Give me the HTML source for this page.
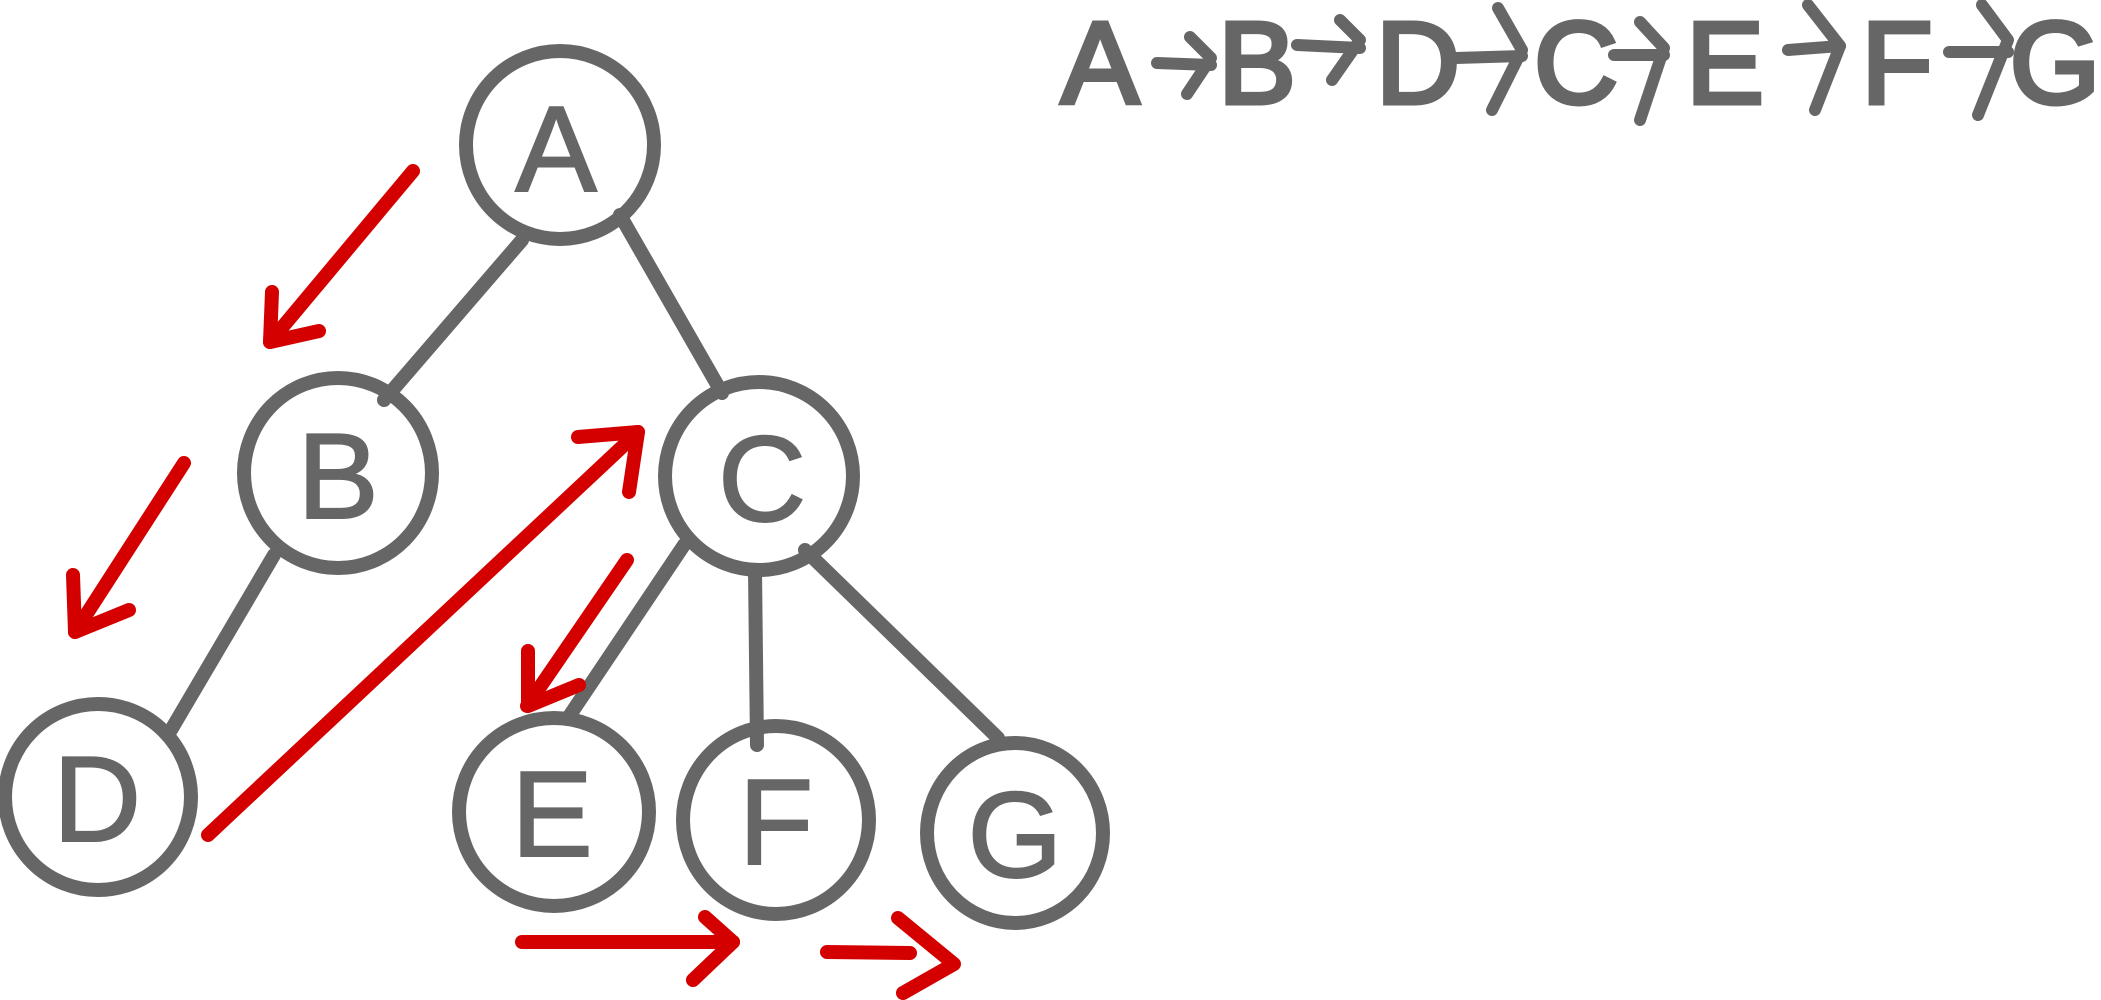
<!DOCTYPE html>
<html><head><meta charset="utf-8"><style>
html,body{margin:0;padding:0;background:#fff;}
svg{display:block;}
text{font-family:"Liberation Sans",sans-serif;fill:#666;stroke:#666;text-anchor:middle;}
</style></head><body>
<svg width="2101" height="1000" viewBox="0 0 2101 1000" xmlns="http://www.w3.org/2000/svg">
<g fill="none" stroke="#666" stroke-width="14" stroke-linecap="round" stroke-linejoin="round">
<line x1="522" y1="240" x2="384" y2="400"/>
<line x1="620" y1="215" x2="722" y2="393"/>
<line x1="274" y1="555" x2="171" y2="730"/>
<line x1="684" y1="545" x2="568" y2="718"/>
<line x1="755" y1="570" x2="757" y2="745"/>
<line x1="805" y1="550" x2="998" y2="738"/>
<ellipse cx="560" cy="145" rx="94" ry="94"/>
<ellipse cx="338" cy="473" rx="94" ry="95"/>
<ellipse cx="759" cy="476" rx="94" ry="94"/>
<ellipse cx="98" cy="797" rx="93" ry="93"/>
<ellipse cx="554" cy="812" rx="95" ry="94"/>
<ellipse cx="776" cy="820" rx="93" ry="94"/>
<ellipse cx="1015" cy="833" rx="88" ry="90"/>
</g>
<g fill="none" stroke="#d40000" stroke-width="14" stroke-linecap="round" stroke-linejoin="round">
<line x1="413" y1="171" x2="270" y2="342"/>
<polyline points="272,292 270,342 319,331"/>
<line x1="184" y1="463" x2="75" y2="632"/>
<polyline points="73,575 75,632 129,610"/>
<line x1="638" y1="432" x2="208" y2="835"/>
<polyline points="578,437 638,432 629,492"/>
<line x1="627" y1="560" x2="527" y2="706"/>
<polyline points="528,651 528,706 579,685"/>
<line x1="522" y1="942" x2="733" y2="942"/>
<polyline points="705,917 733,942 693,980"/>
<line x1="827" y1="952" x2="910" y2="953"/>
<polyline points="898,918 954,964 903,993"/>
</g>
<g font-size="122" stroke-width="2">
<text x="556" y="191">A</text>
<text x="338" y="518">B</text>
<text x="762" y="521">C</text>
<text x="97" y="841">D</text>
<text x="552" y="856">E</text>
<text x="776" y="864">F</text>
<text x="1015" y="877">G</text>
</g>
<g font-size="116" stroke-width="5">
<text x="1100" y="103">A</text>
<text x="1257" y="103">B</text>
<text x="1418" y="103">D</text>
<text x="1576" y="103">C</text>
<text x="1725" y="103">E</text>
<text x="1897" y="103">F</text>
<text x="2055" y="103">G</text>
</g>
<g fill="none" stroke="#666" stroke-width="12" stroke-linecap="round" stroke-linejoin="round">
<line x1="1157" y1="63" x2="1211" y2="65"/><polyline points="1190,37 1211,58 1187,94"/>
<line x1="1297" y1="45" x2="1360" y2="48"/><polyline points="1340,20 1360,40 1332,80"/>
<line x1="1456" y1="58" x2="1522" y2="56"/><polyline points="1498,8 1522,50 1492,110"/>
<line x1="1614" y1="55" x2="1664" y2="55"/><polyline points="1640,22 1664,48 1640,120"/>
<line x1="1788" y1="50" x2="1840" y2="46"/><polyline points="1808,5 1840,46 1815,110"/>
<line x1="1949" y1="52" x2="2008" y2="52"/><polyline points="1982,5 2008,40 1978,115"/>
</g>
</svg>
</body></html>
